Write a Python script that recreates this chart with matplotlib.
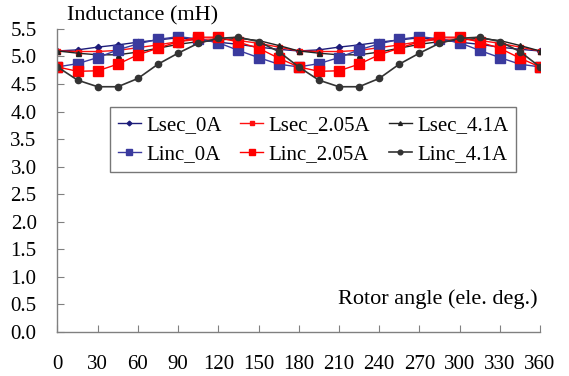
import matplotlib
matplotlib.use("Agg")
import matplotlib.pyplot as plt

angles = list(range(0, 361, 15))

lsec_0A   = [5.10, 5.12, 5.17, 5.21, 5.26, 5.30, 5.34, 5.30, 5.26, 5.22, 5.17, 5.13, 5.10,
             5.12, 5.17, 5.21, 5.26, 5.30, 5.34, 5.30, 5.26, 5.22, 5.17, 5.13, 5.10]
lsec_205A = [5.10, 5.09, 5.09, 5.11, 5.16, 5.21, 5.27, 5.31, 5.32, 5.29, 5.24, 5.17, 5.10,
             5.09, 5.09, 5.11, 5.16, 5.21, 5.27, 5.31, 5.32, 5.29, 5.24, 5.17, 5.10]
lsec_41A  = [5.10, 5.06, 5.03, 5.03, 5.08, 5.15, 5.22, 5.27, 5.30, 5.33, 5.29, 5.20, 5.10,
             5.06, 5.03, 5.03, 5.08, 5.15, 5.22, 5.27, 5.30, 5.33, 5.29, 5.20, 5.10]
linc_0A   = [4.81, 4.87, 4.98, 5.12, 5.23, 5.31, 5.36, 5.32, 5.25, 5.11, 4.98, 4.86, 4.81,
             4.87, 4.98, 5.12, 5.23, 5.31, 5.36, 5.32, 5.25, 5.11, 4.98, 4.86, 4.81]
linc_205A = [4.81, 4.73, 4.74, 4.86, 5.03, 5.15, 5.27, 5.35, 5.35, 5.26, 5.15, 4.97, 4.81,
             4.73, 4.74, 4.86, 5.03, 5.15, 5.27, 5.35, 5.35, 5.26, 5.15, 4.97, 4.81]
linc_41A  = [4.81, 4.57, 4.45, 4.45, 4.60, 4.86, 5.06, 5.24, 5.33, 5.35, 5.27, 5.09, 4.81,
             4.57, 4.45, 4.45, 4.60, 4.86, 5.06, 5.24, 5.33, 5.35, 5.27, 5.09, 4.81]

labels = ["Lsec_0A", "Lsec_2.05A", "Lsec_4.1A", "Linc_0A", "Linc_2.05A", "Linc_4.1A"]
xticks = list(range(0, 361, 30))
yticks = [i * 0.5 for i in range(12)]

plt.rcParams['font.family'] = ['Liberation Serif', 'DejaVu Serif']

fig = plt.figure(figsize=(5.69, 3.76), dpi=100)
ax = fig.add_axes([0.101, 0.118, 0.848, 0.805])

styles = [
    (lsec_0A,   dict(color="#1c1c7a", marker="D", ms=3.2, lw=1.0)),
    (lsec_205A, dict(color="#ff1010", marker="s", ms=3.6, lw=1.0)),
    (lsec_41A,  dict(color="#222222", marker="^", ms=3.6, lw=1.0)),
    (linc_0A,   dict(color="#3a3a9e", marker="s", ms=6.5, lw=1.0)),
    (linc_205A, dict(color="#ff0000", marker="s", ms=6.5, lw=1.0)),
    (linc_41A,  dict(color="#333333", marker="o", ms=4.5, lw=1.2)),
]
handles = []
for (vals, st), lab in zip(styles, labels):
    h, = ax.plot(angles, vals, label=lab, **st)
    handles.append(h)

ax.set_xlim(0, 360)
ax.set_ylim(0, 5.5)
ax.set_xticks(xticks)
ax.set_yticks(yticks)
ax.set_yticklabels([f"{v:.1f}" for v in yticks])
for s in ["top", "right"]:
    ax.spines[s].set_visible(False)
for s in ["left", "bottom"]:
    ax.spines[s].set_color("#808080")
    ax.spines[s].set_linewidth(1.0)
ax.tick_params(direction="in", length=5, color="#808080", labelsize=15)
ax.tick_params(axis="x", pad=17)
ax.tick_params(axis="y", pad=15)

order = [0, 3, 1, 4, 2, 5]
leg = ax.legend([handles[i] for i in order], [labels[i] for i in order],
                ncol=3, loc="upper left", bbox_to_anchor=(0.108, 0.742),
                fontsize=15, frameon=True, fancybox=False, edgecolor="#555555",
                handlelength=1.1, handletextpad=0.25, columnspacing=0.9,
                borderpad=0.4, labelspacing=0.45, markerscale=0.75,
                borderaxespad=0)
leg.get_frame().set_linewidth(1.0)

fig.text(0.118, 0.983, "Inductance (mH)", fontsize=16, va="top", ha="left")
ax.text(0.995, 0.075, "Rotor angle (ele. deg.)", transform=ax.transAxes,
        fontsize=16, ha="right", va="bottom")

fig.savefig("out.png", dpi=100)
